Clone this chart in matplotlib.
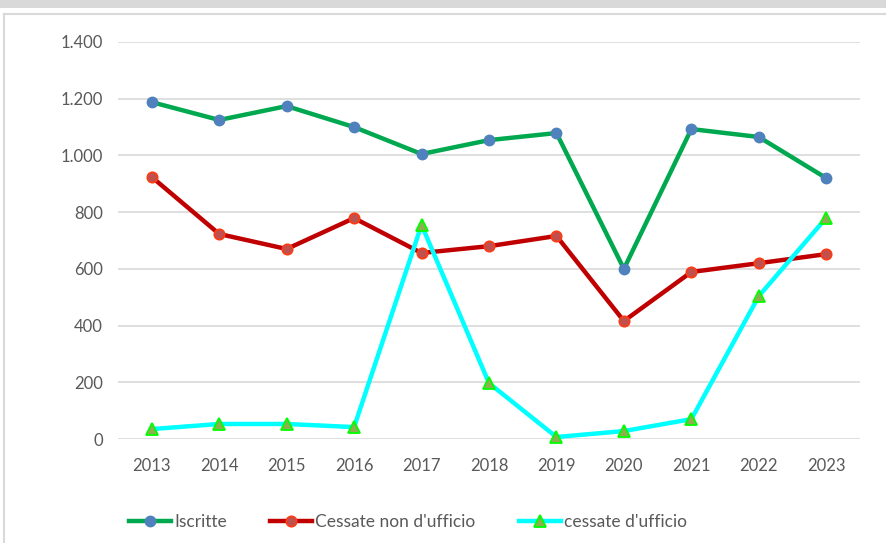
import matplotlib.pyplot as plt
from matplotlib.patches import Rectangle
from matplotlib.lines import Line2D
from matplotlib.ticker import FuncFormatter

anni = ['2013', '2014', '2015', '2016', '2017', '2018', '2019', '2020', '2021', '2022', '2023']
iscritte = [1188, 1125, 1174, 1100, 1005, 1054, 1079, 600, 1093, 1065, 920]
cessate_non_ufficio = [924, 723, 670, 779, 656, 680, 716, 416, 589, 620, 652]
cessate_ufficio = [35, 53, 53, 42, 755, 197, 7, 28, 70, 504, 780]

plt.rcParams['font.family'] = ['Lato', 'DejaVu Sans']

fig = plt.figure(figsize=(8.87, 5.43), dpi=100)

# grey band and frame of the chart area
fig.patches.append(Rectangle((0, 1 - 8 / 543), 1, 8 / 543, transform=fig.transFigure,
                             facecolor='#d9d9d9', edgecolor='none', zorder=0))
fig.add_artist(Line2D([4.5 / 887, 4.5 / 887], [0, 1 - 14 / 543], transform=fig.transFigure,
                      color='#d9d9d9', lw=1.5))
fig.add_artist(Line2D([4.5 / 887, 1], [1 - 14 / 543, 1 - 14 / 543], transform=fig.transFigure,
                      color='#d9d9d9', lw=1.5))

ax = fig.add_axes([118 / 887, 1 - 439 / 543, 742 / 887, 397 / 543])
x = range(len(anni))

ax.plot(x, iscritte, color='#00a850', lw=3.2, marker='o', ms=7.5,
        mfc='#4f81bd', mec='#4f81bd', label='Iscritte', clip_on=False, zorder=3)
ax.plot(x, cessate_non_ufficio, color='#c00000', lw=3.2, marker='o', ms=7.5,
        mfc='#c0504d', mec='#ff3b12', mew=1.2, label="Cessate non d'ufficio", clip_on=False, zorder=3)
ax.plot(x, cessate_ufficio, color='#00ffff', lw=3.2, marker='^', ms=8.5,
        mfc='#8fae50', mec='#00ff00', mew=1.3, label="cessate d'ufficio", clip_on=False, zorder=4)

ax.set_xlim(-0.5, len(anni) - 0.5)
ax.set_ylim(0, 1400)
ax.set_yticks(range(0, 1401, 200))
ax.yaxis.set_major_formatter(FuncFormatter(lambda v, p: f'{int(v):,}'.replace(',', '.')))
ax.set_xticks(list(x))
ax.set_xticklabels(anni)
ax.grid(axis='y', color='#d9d9d9', lw=1.2)
ax.set_axisbelow(True)
for s in ax.spines.values():
    s.set_visible(False)
ax.tick_params(length=0, labelsize=12, colors='#595959')
ax.tick_params(axis='x', pad=14)
ax.tick_params(axis='y', pad=11)

leg = fig.legend(loc='center', bbox_to_anchor=(408 / 887, 1 - 522 / 543), ncol=3, frameon=False,
                 fontsize=12.5, handlelength=2.4, handletextpad=0.2, columnspacing=2.5)
for t in leg.get_texts():
    t.set_color('#595959')

fig.savefig('out.png', dpi=100)
